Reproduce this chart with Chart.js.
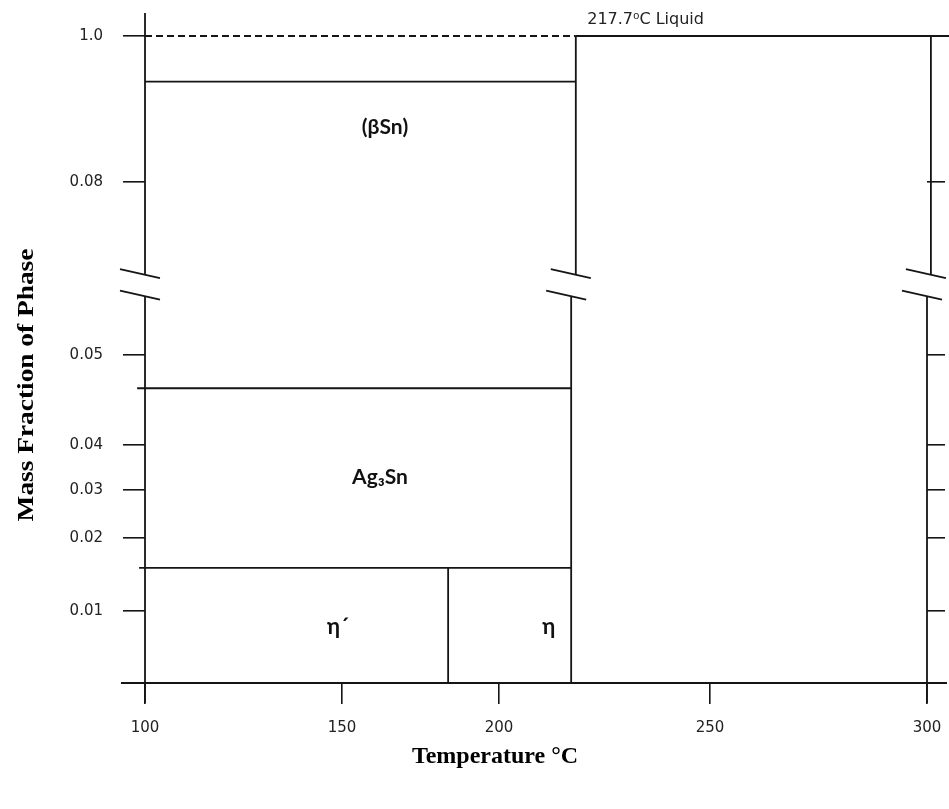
<!DOCTYPE html>
<html>
<head>
<meta charset="utf-8">
<script src="https://cdn.jsdelivr.net/npm/chart.js@4.4.1/dist/chart.umd.min.js"></script>
<style>
  html, body { margin: 0; padding: 0; background: #fff; }
  #wrap { width: 949px; height: 809px; position: relative; }
</style>
</head>
<body>
<div id="wrap"><canvas id="phaseChart"></canvas></div>
<script>
// axis ticks
const tempTicks = [100, 150, 200, 250, 300];
const tempLabels = ['100', '150', '200', '250', '300'];
const fracTicks = [0.01, 0.02, 0.03, 0.04, 0.05, 0.08, 1.0];
const fracLabels = ['0.01', '0.02', '0.03', '0.04', '0.05', '0.08', '1.0'];
const rightTicks = [0.01, 0.02, 0.03, 0.04, 0.05, 0.08];

// phase boundaries
const liquidTemp = 218.2;     // 217.7 line above the break
const liquidTempLow = 217.1;  // same line below the break
const etaTemp = 183.8;        // eta' / eta
const leftTemp = 100;
const rightTemp = 300;
const rightTempTop = 300.9;
const fracTop = 1.0;
const betaSnLow = 0.712;
const ag3SnHigh = 0.0463;
const ag3SnLow = 0.0159;
const breakHigh = 0.0639;
const breakLow = 0.0602;
const axisTempFrom = 93.9, axisTempTo = 304.6, topLineTo = 305.1;
const axisFracTop = 1.145, axisFracBottom = -0.0028;
const ag3SnHighFrom = 98.0, ag3SnLowFrom = 98.5;

const phaseLabels = [
  { text: '(βSn)', x: 163.7, y: 0.4266, size: 21 },
  { text: 'Ag₃Sn', x: 162.1, y: 0.0329, size: 21 },
  { text: 'η´', x: 149.0, y: 0.0078, size: 22 },
  { text: 'η', x: 211.8, y: 0.0078, size: 22 }
];
const liquidLabel = { text: '217.7⁰C Liquid', x: 220.9, y: 1.10 };

// the sketch's axes are not evenly spaced: value -> share of axis length
const scaleKnots = {
  x: [[100, 0], [150, 0.2519], [200, 0.4527], [250, 0.7225], [300, 1]],
  y: [[0, 0], [0.01, 0.1113], [0.02, 0.2241], [0.03, 0.2983], [0.04, 0.3679],
      [0.05, 0.5070], [0.08, 0.7743], [1.0, 1]]
};
scaleKnots.yRight = scaleKnots.y;

function toShare(knots, v) {
  let i = 0;
  while (i < knots.length - 2 && v > knots[i + 1][0]) i++;
  const a = knots[i], b = knots[i + 1];
  return a[1] + (v - a[0]) / (b[0] - a[0]) * (b[1] - a[1]);
}
function fromShare(knots, d) {
  let i = 0;
  while (i < knots.length - 2 && d > knots[i + 1][1]) i++;
  const a = knots[i], b = knots[i + 1];
  return a[0] + (d - a[1]) / (b[1] - a[1]) * (b[0] - a[0]);
}

const LinearScale = Chart.registry.getScale('linear');
class PiecewiseScale extends LinearScale {
  getPixelForValue(value) {
    if (value === null || value === undefined || isNaN(value)) return NaN;
    return this.getPixelForDecimal(toShare(scaleKnots[this.id], value));
  }
  getValueForPixel(pixel) {
    return fromShare(scaleKnots[this.id], this.getDecimalForPixel(pixel));
  }
}
PiecewiseScale.id = 'piecewise';
PiecewiseScale.defaults = LinearScale.defaults;
Chart.register(PiecewiseScale);

const ink = '#151515';
function seg(points, extra) {
  return Object.assign({
    data: points.map(p => ({ x: p[0], y: p[1] })),
    showLine: true, pointRadius: 0, borderColor: ink, borderWidth: 1.8,
    clip: false, yAxisID: 'y'
  }, extra || {});
}

const datasets = [
  seg([[leftTemp, fracTop], [liquidTemp, fracTop]], { borderDash: [7, 4] }),
  seg([[liquidTemp, fracTop], [topLineTo, fracTop]]),
  seg([[leftTemp, betaSnLow], [liquidTemp, betaSnLow]]),
  seg([[liquidTemp, fracTop], [liquidTemp, breakHigh]]),
  seg([[liquidTempLow, breakLow], [liquidTempLow, 0]]),
  seg([[ag3SnHighFrom, ag3SnHigh], [liquidTempLow, ag3SnHigh]]),
  seg([[ag3SnLowFrom, ag3SnLow], [liquidTempLow, ag3SnLow]]),
  seg([[etaTemp, ag3SnLow], [etaTemp, 0]]),
  seg([[leftTemp, axisFracTop], [leftTemp, breakHigh]]),
  seg([[leftTemp, breakLow], [leftTemp, axisFracBottom]]),
  seg([[rightTempTop, fracTop], [rightTempTop, breakHigh]]),
  seg([[rightTemp, breakLow], [rightTemp, axisFracBottom]]),
  seg([[axisTempFrom, 0], [axisTempTo, 0]])
];

// break marks, phase names and axis titles
const sketchPlugin = {
  id: 'sketch',
  afterDatasetsDraw(chart) {
    const ctx = chart.ctx, xs = chart.scales.x, ys = chart.scales.y;
    ctx.save();
    ctx.strokeStyle = ink;
    ctx.lineWidth = 1.8;
    const cols = [[leftTemp, leftTemp], [liquidTemp, liquidTempLow], [rightTempTop, rightTemp]];
    cols.forEach(c => {
      [[c[0], breakHigh], [c[1], breakLow]].forEach(p => {
        const px = xs.getPixelForValue(p[0]), py = ys.getPixelForValue(p[1]);
        ctx.beginPath();
        ctx.moveTo(px - 25, py - 5.6);
        ctx.lineTo(px + 15, py + 3.4);
        ctx.stroke();
      });
    });

    ctx.fillStyle = '#111';
    ctx.textAlign = 'center';
    ctx.textBaseline = 'middle';
    phaseLabels.forEach(l => {
      ctx.font = 'bold ' + l.size + 'px Lato, "Open Sans", sans-serif';
      ctx.fillText(l.text, xs.getPixelForValue(l.x), ys.getPixelForValue(l.y));
    });

    ctx.font = '16px "DejaVu Sans", sans-serif';
    ctx.fillStyle = '#222';
    ctx.textAlign = 'left';
    ctx.fillText(liquidLabel.text, xs.getPixelForValue(liquidLabel.x), ys.getPixelForValue(liquidLabel.y));

    ctx.fillStyle = '#000';
    ctx.font = 'bold 24px "Liberation Serif", "Times New Roman", serif';
    ctx.textAlign = 'center';
    ctx.fillText('Temperature °C', 495, 757);
    ctx.translate(27, 385);
    ctx.rotate(-Math.PI / 2);
    ctx.scale(1.14, 1);
    ctx.fillText('Mass Fraction of Phase', 0, 0);
    ctx.restore();
  }
};

const tickFont = { family: '"DejaVu Sans", sans-serif', size: 15 };

new Chart(document.getElementById('phaseChart'), {
  type: 'scatter',
  data: { datasets: datasets },
  options: {
    responsive: true,
    maintainAspectRatio: false,
    animation: false,
    layout: { padding: { top: 36, left: 0, right: 0, bottom: 0 } },
    plugins: { legend: { display: false }, tooltip: { enabled: false } },
    scales: {
      x: {
        type: 'piecewise', position: 'bottom', min: 100, max: 300,
        afterFit: s => { s.height = 126; s.paddingLeft = 0; s.paddingRight = 0; },
        afterBuildTicks: s => { s.ticks = tempTicks.map(v => ({ value: v })); },
        border: { display: false },
        grid: { drawOnChartArea: false, tickLength: 21, color: ink, lineWidth: 1.6 },
        ticks: { autoSkip: false, maxRotation: 0, padding: 15, color: '#222', font: tickFont,
                 callback: (v, i) => tempLabels[i] }
      },
      y: {
        type: 'piecewise', position: 'left', min: 0, max: 1.0,
        afterFit: s => { s.width = 145; },
        afterBuildTicks: s => { s.ticks = fracTicks.map(v => ({ value: v })); },
        border: { display: false },
        grid: { drawOnChartArea: false, tickLength: 22, color: ink, lineWidth: 1.6 },
        ticks: { autoSkip: false, padding: 20, color: '#222', font: tickFont,
                 callback: (v, i) => fracLabels[i] }
      },
      yRight: {
        type: 'piecewise', position: 'right', min: 0, max: 1.0,
        afterFit: s => { s.width = 22; },
        afterBuildTicks: s => { s.ticks = rightTicks.map(v => ({ value: v })); },
        border: { display: false },
        grid: { drawOnChartArea: false, tickLength: 18, color: ink, lineWidth: 1.6 },
        ticks: { display: false }
      }
    }
  },
  plugins: [sketchPlugin]
});
</script>
</body>
</html>
